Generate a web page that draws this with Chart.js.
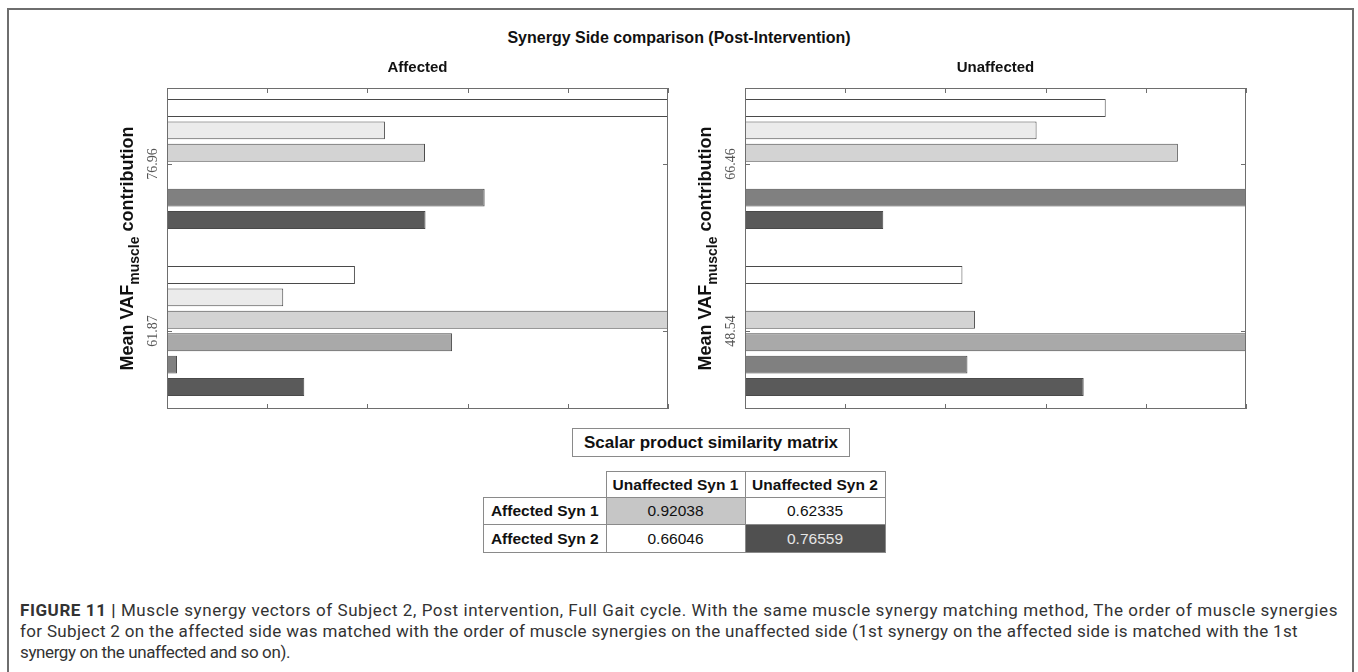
<!DOCTYPE html>
<html lang="en">
<head>
  <meta charset="UTF-8">
  <title>Synergy Side comparison (Post-Intervention)</title>
  <script src="https://cdn.jsdelivr.net/npm/chart.js"></script>
  <style>
    body { margin: 0; width: 1358px; height: 672px; background: #fff; position: relative; overflow: hidden;
           font-family: "Liberation Sans", Arial, sans-serif; color: #111; }
    #frame { position: absolute; left: 7px; top: 8px; width: 1343px; height: 720px; border: 2px solid #6e6e6e; }
    #mainTitle { position: absolute; left: 0; width: 1358px; top: 28px; line-height: 20px; text-align: center;
                 font-weight: bold; font-size: 16px; }
    .panel { position: absolute; top: 55px; width: 580px; height: 360px; }
    #matrixTitle { position: absolute; left: 572px; top: 428px; width: 276px; height: 27px; line-height: 27px;
                   border: 1px solid #8a8a8a; text-align: center; font-weight: bold; font-size: 17px; }
    #simTable { position: absolute; left: 483px; top: 471px; border-collapse: collapse; font-size: 15.5px; }
    #simTable td, #simTable th { border: 1px solid #8a8a8a; text-align: center; padding: 0; }
    #simTable th { font-weight: bold; }
    #simTable .blank { border: none; }
    #caption { position: absolute; left: 20px; top: 600px; font-family: Roboto, "Liberation Sans", sans-serif;
               font-size: 17px; line-height: 21px; color: #333; white-space: nowrap; }
    #caption div { height: 21px; }
  </style>
</head>
<body>
  <div id="frame"></div>
  <div id="mainTitle">Synergy Side comparison (Post-Intervention)</div>
  <div class="panel" style="left:100px"><canvas id="affectedChart" width="580" height="360"></canvas></div>
  <div class="panel" style="left:678px"><canvas id="unaffectedChart" width="580" height="360"></canvas></div>
  <div id="matrixTitle">Scalar product similarity matrix</div>
  <table id="simTable"></table>
  <div id="caption">
    <div class="capLine" data-w="1318"><b>FIGURE 11 |</b> Muscle synergy vectors of Subject 2, Post intervention, Full Gait cycle. With the same muscle synergy matching method, The order of muscle synergies</div>
    <div class="capLine" data-w="1278">for Subject 2 on the affected side was matched with the order of muscle synergies on the unaffected side (1st synergy on the affected side is matched with the 1st</div>
    <div class="capLine" data-w="270">synergy on the unaffected and so on).</div>
  </div>

  <script>
    // muscles (one bar each inside a synergy group)
    const muscles = ['Muscle 1', 'Muscle 2', 'Muscle 3', 'Muscle 4', 'Muscle 5', 'Muscle 6'];

    // y tick labels = mean VAF of each synergy (synergy 1 on top)
    const affectedVaf = ['76.96', '61.87'];
    const unaffectedVaf = ['66.46', '48.54'];

    // synergy weights per muscle (axis runs 0..1)
    const affectedSyn1 = [1.0, 0.435, 0.515, 0, 0.634, 0.516];
    const affectedSyn2 = [0.375, 0.232, 1.0, 0.569, 0.020, 0.274];
    const unaffectedSyn1 = [0.72, 0.582, 0.864, 0, 1.0, 0.276];
    const unaffectedSyn2 = [0.434, 0, 0.459, 1.0, 0.444, 0.676];

    const xTicks = [0, 0.2, 0.4, 0.6, 0.8, 1];
    const synIndex = [0, 1];

    // similarity matrix
    const rowNames = ['Affected Syn 1', 'Affected Syn 2'];
    const colNames = ['Unaffected Syn 1', 'Unaffected Syn 2'];
    const similarity = [
      [0.92038, 0.62335],
      [0.66046, 0.76559]
    ];

    const barColors = ['#ffffff', '#ebebeb', '#d3d3d3', '#a9a9a9', '#808080', '#5a5a5a'];

    // box + inward ticks (matlab style) and the y title with subscript
    const matlabAxes = {
      id: 'matlabAxes',
      afterDraw(chart) {
        const ctx = chart.ctx;
        const a = chart.chartArea;
        const xs = chart.scales.x;
        const ys = chart.scales.y;
        ctx.save();
        ctx.strokeStyle = '#6e6e6e';
        ctx.lineWidth = 1;
        ctx.strokeRect(a.left + 0.5, a.top + 0.5, a.right - a.left - 1, a.bottom - a.top - 1);
        ctx.beginPath();
        xTicks.forEach(v => {
          const px = Math.round(xs.getPixelForValue(v)) + 0.5;
          ctx.moveTo(px, a.top); ctx.lineTo(px, a.top + 5);
          ctx.moveTo(px, a.bottom); ctx.lineTo(px, a.bottom - 5);
        });
        synIndex.forEach(v => {
          const py = Math.round(ys.getPixelForValue(v)) + 0.5;
          ctx.moveTo(a.left, py); ctx.lineTo(a.left + 5, py);
          ctx.moveTo(a.right, py); ctx.lineTo(a.right - 5, py);
        });
        ctx.stroke();

        // "Mean VAF_muscle contribution"
        const big = 'bold 18px "Liberation Sans", Arial, sans-serif';
        const small = 'bold 14px "Liberation Sans", Arial, sans-serif';
        ctx.font = big;
        const w1 = ctx.measureText('Mean VAF').width;
        const w3 = ctx.measureText(' contribution').width;
        ctx.font = small;
        const w2 = ctx.measureText('muscle').width;
        const total = w1 + w2 + w3;
        ctx.translate(a.left - 40, (a.top + a.bottom) / 2);
        ctx.rotate(-Math.PI / 2);
        ctx.fillStyle = '#111';
        ctx.textBaseline = 'alphabetic';
        let x = -total / 2;
        ctx.font = big;
        ctx.fillText('Mean VAF', x, 6);
        x += w1;
        ctx.font = small;
        ctx.fillText('muscle', x, 12);
        x += w2;
        ctx.font = big;
        ctx.fillText(' contribution', x, 6);
        ctx.restore();
      }
    };

    function makeChart(id, title, vafLabels, syn1, syn2) {
      const datasets = muscles.map((m, i) => ({
        label: m,
        data: [{ x: syn1[i], y: synIndex[0] }, { x: syn2[i], y: synIndex[1] }],
        backgroundColor: barColors[i],
        borderColor: '#4a4a4a',
        borderWidth: 1,
        borderSkipped: false,
        categoryPercentage: 0.805,
        barPercentage: 0.8
      }));

      return new Chart(document.getElementById(id), {
        type: 'bar',
        data: { datasets },
        options: {
          indexAxis: 'y',
          responsive: false,
          animation: false,
          layout: { padding: { top: 4, right: 12, bottom: 6, left: 0 } },
          plugins: {
            legend: { display: false },
            tooltip: { enabled: false },
            title: {
              display: true,
              text: title,
              fullSize: false,
              color: '#111',
              font: { family: '"Liberation Sans", Arial, sans-serif', size: 15, weight: 'bold' },
              padding: { top: 0, bottom: 11 }
            }
          },
          scales: {
            x: { display: false, min: 0, max: 1 },
            y: {
              type: 'linear',
              reverse: true,
              offset: false,
              min: -0.455,
              max: 1.467,
              grid: { display: false, offset: false },
              border: { display: false },
              ticks: {
                stepSize: 1,
                includeBounds: false,
                callback: v => vafLabels[v],
                minRotation: 90,
                maxRotation: 90,
                crossAlign: 'center',
                padding: -10,
                color: '#555',
                font: { family: '"Liberation Serif", "DejaVu Serif", serif', size: 14 }
              },
              afterFit(scale) { scale.width = 67; }
            }
          }
        },
        plugins: [matlabAxes]
      });
    }

    makeChart('affectedChart', 'Affected', affectedVaf, affectedSyn1, affectedSyn2);
    makeChart('unaffectedChart', 'Unaffected', unaffectedVaf, unaffectedSyn1, unaffectedSyn2);

    // similarity table
    const table = document.getElementById('simTable');
    const colW = [122, 138, 139];
    const rowH = [26, 27, 28];
    let html = '<tr style="height:' + rowH[0] + 'px"><th class="blank" style="width:' + colW[0] + 'px"></th>';
    colNames.forEach((c, j) => { html += '<th style="width:' + colW[j + 1] + 'px">' + c + '</th>'; });
    html += '</tr>';
    rowNames.forEach((r, i) => {
      html += '<tr style="height:' + rowH[i + 1] + 'px"><th>' + r + '</th>';
      similarity[i].forEach((v, j) => {
        let style = '';
        if (i === j && i === 0) style = 'background:#c6c6c6;';
        if (i === j && i === 1) style = 'background:#505050;color:#e6e6e6;';
        html += '<td style="' + style + '">' + v.toFixed(5) + '</td>';
      });
      html += '</tr>';
    });
    table.innerHTML = html;

    // stretch caption lines to the widths of the original typesetting
    document.querySelectorAll('.capLine').forEach(el => {
      const r = document.createRange();
      r.selectNodeContents(el);
      const w = r.getBoundingClientRect().width;
      const n = el.textContent.length;
      el.style.letterSpacing = ((+el.dataset.w - w) / n) + 'px';
    });
  </script>
</body>
</html>
